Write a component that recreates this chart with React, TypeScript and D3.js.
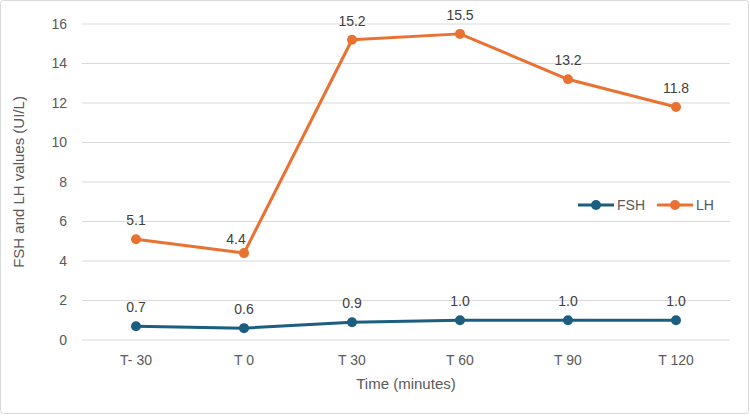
import React, { useEffect, useRef } from "react";
import { select, scaleBand, scaleLinear, line } from "d3";

const categories = ["T- 30", "T 0", "T 30", "T 60", "T 90", "T 120"];
const fshValues = [0.7, 0.6, 0.9, 1.0, 1.0, 1.0];
const lhValues = [5.1, 4.4, 15.2, 15.5, 13.2, 11.8];
const yTicks = [0, 2, 4, 6, 8, 10, 12, 14, 16];

const series = [
  { name: "FSH", values: fshValues, color: "#1B5E80" },
  { name: "LH", values: lhValues, color: "#E97132" },
];

const W = 750;
const H = 416;
const margin = { top: 24, right: 20, bottom: 76, left: 82 };
const FONT = "'Liberation Sans', Arial, sans-serif";

const App: React.FC = () => {
  const svgRef = useRef<SVGSVGElement>(null);

  useEffect(() => {
    const svg = select(svgRef.current);
    svg.selectAll("*").remove();

    const innerW = W - margin.left - margin.right;
    const innerH = H - margin.top - margin.bottom;

    const x = scaleBand<string>().domain(categories).range([0, innerW]);
    const y = scaleLinear().domain([0, 16]).range([innerH, 0]);
    const cx = (c: string) => (x(c) ?? 0) + x.bandwidth() / 2;

    // chart frame
    svg
      .append("rect")
      .attr("x", 0.5)
      .attr("y", 0.5)
      .attr("width", W - 2)
      .attr("height", H - 3)
      .attr("rx", 3)
      .attr("fill", "#fff")
      .attr("stroke", "#d9d9d9");

    const g = svg
      .append("g")
      .attr("transform", `translate(${margin.left},${margin.top})`);

    // gridlines + y labels
    g.selectAll("line.grid")
      .data(yTicks)
      .join("line")
      .attr("x1", 0)
      .attr("x2", innerW)
      .attr("y1", (d) => y(d))
      .attr("y2", (d) => y(d))
      .attr("stroke", "#d9d9d9")
      .attr("stroke-width", 1);

    g.selectAll("text.ytick")
      .data(yTicks)
      .join("text")
      .attr("x", -15)
      .attr("y", (d) => y(d))
      .attr("dy", "0.35em")
      .attr("text-anchor", "end")
      .attr("font-size", 14)
      .attr("fill", "#595959")
      .text((d) => d);

    // x labels
    g.selectAll("text.xtick")
      .data(categories)
      .join("text")
      .attr("x", (d) => cx(d))
      .attr("y", innerH + 25)
      .attr("text-anchor", "middle")
      .attr("font-size", 14)
      .attr("fill", "#595959")
      .text((d) => d);

    // axis titles
    g.append("text")
      .attr("x", innerW / 2)
      .attr("y", innerH + 49)
      .attr("text-anchor", "middle")
      .attr("font-size", 15)
      .attr("fill", "#595959")
      .text("Time (minutes)");

    svg
      .append("text")
      .attr("transform", `translate(24,${margin.top + innerH / 2}) rotate(-90)`)
      .attr("text-anchor", "middle")
      .attr("font-size", 15)
      .attr("fill", "#595959")
      .text("FSH and LH values (UI/L)");

    // lines, markers, value labels
    const lineGen = line<number>()
      .x((_, i) => cx(categories[i]))
      .y((d) => y(d));

    series.forEach((s) => {
      g.append("path")
        .datum(s.values)
        .attr("fill", "none")
        .attr("stroke", s.color)
        .attr("stroke-width", 3)
        .attr("stroke-linejoin", "round")
        .attr("d", lineGen);

      g.selectAll(null)
        .data(s.values)
        .join("circle")
        .attr("cx", (_, i) => cx(categories[i]))
        .attr("cy", (d) => y(d))
        .attr("r", 5)
        .attr("fill", s.color);

      // nudge a label left when the line climbs steeply out of its point
      const steep = (i: number) =>
        i < s.values.length - 1 && s.values[i + 1] - s.values[i] > 5;

      g.selectAll(null)
        .data(s.values)
        .join("text")
        .attr("x", (_, i) => cx(categories[i]) - (steep(i) ? 8 : 0))
        .attr("y", (d, i) => y(d) - (steep(i) ? 9 : 14))
        .attr("text-anchor", "middle")
        .attr("font-size", 14)
        .attr("fill", "#404040")
        .text((d) => d.toFixed(1));
    });

    // legend
    const legend = svg.append("g").attr("transform", "translate(578,205)");
    const offsets = [0, 79];
    series.forEach((s, i) => {
      const lg = legend.append("g").attr("transform", `translate(${offsets[i]},0)`);
      lg.append("line")
        .attr("x1", 0)
        .attr("x2", 36)
        .attr("stroke", s.color)
        .attr("stroke-width", 3);
      lg.append("circle").attr("cx", 18).attr("r", 5).attr("fill", s.color);
      lg.append("text")
        .attr("x", 39)
        .attr("dy", "0.35em")
        .attr("font-size", 14)
        .attr("fill", "#595959")
        .text(s.name);
    });
  }, []);

  return (
    <svg
      ref={svgRef}
      width={W}
      height={H}
      style={{ display: "block", position: "absolute", left: 0, top: 0, fontFamily: FONT }}
    />
  );
};

export default App;
